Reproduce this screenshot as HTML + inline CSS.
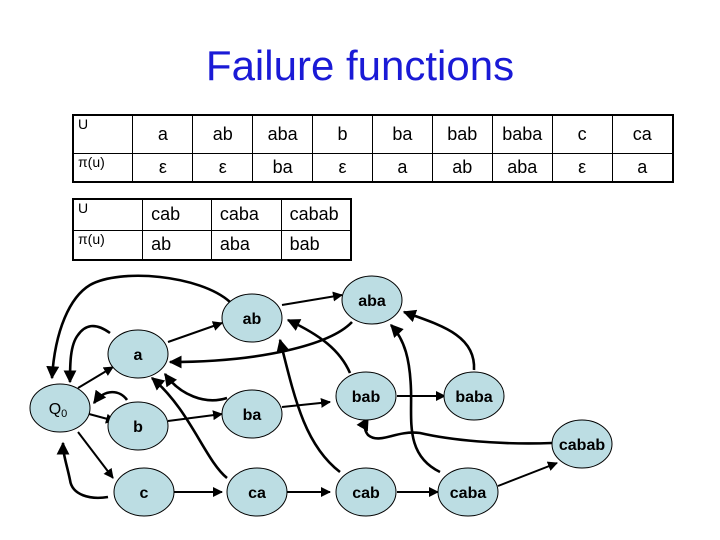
<!DOCTYPE html>
<html><head><meta charset="utf-8"><style>
body{margin:0;width:720px;height:540px;background:#fff;overflow:hidden;position:relative;font-family:"Liberation Sans",sans-serif}
.title{position:absolute;left:0;width:720px;top:42px;text-align:center;font-size:42px;color:#1a1ad6}
table{position:absolute;border-collapse:collapse;border:2px solid #000;font-size:18px}
td{border:1px solid #000;padding:0;text-align:center}
td.h{text-align:left;font-size:14px;padding-left:4px;vertical-align:top}
#t2 td{text-align:left;padding-left:8px}
#t2 td.h{padding-left:4px}
</style></head><body>
<div class="title">Failure functions</div>
<table id="t1" style="left:72px;top:114px;width:602px;height:69px">
<colgroup><col style="width:60px"><col style="width:60px"><col style="width:60px"><col style="width:60px"><col style="width:60px"><col style="width:60px"><col style="width:60px"><col style="width:60px"><col style="width:60px"><col style="width:61px"></colgroup>
<tr style="height:38px"><td class="h">U</td><td>a</td><td>ab</td><td>aba</td><td>b</td><td>ba</td><td>bab</td><td>baba</td><td>c</td><td>ca</td></tr>
<tr><td class="h">π(u)</td><td>ε</td><td>ε</td><td>ba</td><td>ε</td><td>a</td><td>ab</td><td>aba</td><td>ε</td><td>a</td></tr>
</table>
<table id="t2" style="left:72px;top:198px;width:280px;height:63px">
<colgroup><col style="width:70px"><col style="width:69px"><col style="width:70px"><col style="width:70px"></colgroup>
<tr style="height:31px"><td class="h">U</td><td>cab</td><td>caba</td><td>cabab</td></tr>
<tr><td class="h">π(u)</td><td>ab</td><td>aba</td><td>bab</td></tr>
</table>
<svg width="720" height="540" style="position:absolute;left:0;top:0">
<defs><marker id="ar" viewBox="0 0 10 10" refX="9" refY="5" markerWidth="5" markerHeight="5" orient="auto"><path d="M0,0L10,5L0,10z" fill="#000"/></marker></defs>
<g fill="none" stroke="#000" stroke-width="2" marker-end="url(#ar)">
<path d="M78,388L113,367"/><path d="M89,414L115,421"/><path d="M78,432L113,478"/>
<path d="M168,342L222,323"/><path d="M168,421L222,414"/><path d="M173,492L222,492"/>
<path d="M287,492L330,492"/><path d="M282,305L342,295"/><path d="M282,407L330,402"/>
<path d="M397,396L445,396"/><path d="M397,492L438,492"/><path d="M498,486L557,463"/>
</g>
<g fill="none" stroke="#000" stroke-width="2.6" marker-end="url(#ar)">
<path d="M230,302C200,275 120,268 90,285C70,297 55,330 52,378"/>
<path d="M110,333C95,322 85,325 78,335C70,345 70,365 70,382"/>
<path d="M127,400C120,390 105,388 94,403"/>
<path d="M108,497C90,500 72,495 70,480C67,465 63,455 63,443"/>
<path d="M352,322C330,345 260,362 170,362"/>
<path d="M227,398C205,405 180,395 165,374"/>
<path d="M227,478C205,460 190,410 152,378"/>
<path d="M350,373C340,350 320,335 288,320"/>
<path d="M340,472C305,445 295,400 280,340"/>
<path d="M474,370C476,335 440,325 404,312"/>
<path d="M440,472C405,455 412,420 411,390C410,360 405,340 391,325"/>
<path d="M552,443C500,445 450,440 420,433C395,430 380,445 368,435C364,430 364,425 368,418"/>
</g>
<g fill="#bcdde3" stroke="#000" stroke-width="1">
<ellipse cx="60" cy="408" rx="30" ry="24"/><ellipse cx="138" cy="354" rx="30" ry="24"/>
<ellipse cx="138" cy="426" rx="30" ry="24"/><ellipse cx="144" cy="492" rx="30" ry="24"/>
<ellipse cx="252" cy="318" rx="30" ry="24"/><ellipse cx="252" cy="414" rx="30" ry="24"/>
<ellipse cx="257" cy="492" rx="30" ry="24"/><ellipse cx="372" cy="300" rx="30" ry="24"/>
<ellipse cx="366" cy="396" rx="30" ry="24"/><ellipse cx="474" cy="396" rx="30" ry="24"/>
<ellipse cx="582" cy="444" rx="30" ry="24"/><ellipse cx="366" cy="492" rx="30" ry="24"/>
<ellipse cx="468" cy="492" rx="30" ry="24"/>
</g>
<g font-family="Liberation Sans,sans-serif" font-size="16" font-weight="bold" text-anchor="middle" fill="#000">
<text x="58" y="414" font-weight="normal">Q<tspan font-size="11" dy="3">0</tspan></text>
<text x="138" y="360">a</text><text x="138" y="432">b</text><text x="144" y="498">c</text>
<text x="252" y="324">ab</text><text x="252" y="420">ba</text><text x="257" y="498">ca</text>
<text x="372" y="306">aba</text><text x="366" y="402">bab</text><text x="474" y="402">baba</text>
<text x="582" y="450">cabab</text><text x="366" y="498">cab</text><text x="468" y="498">caba</text>
</g>
</svg>
</body></html>
